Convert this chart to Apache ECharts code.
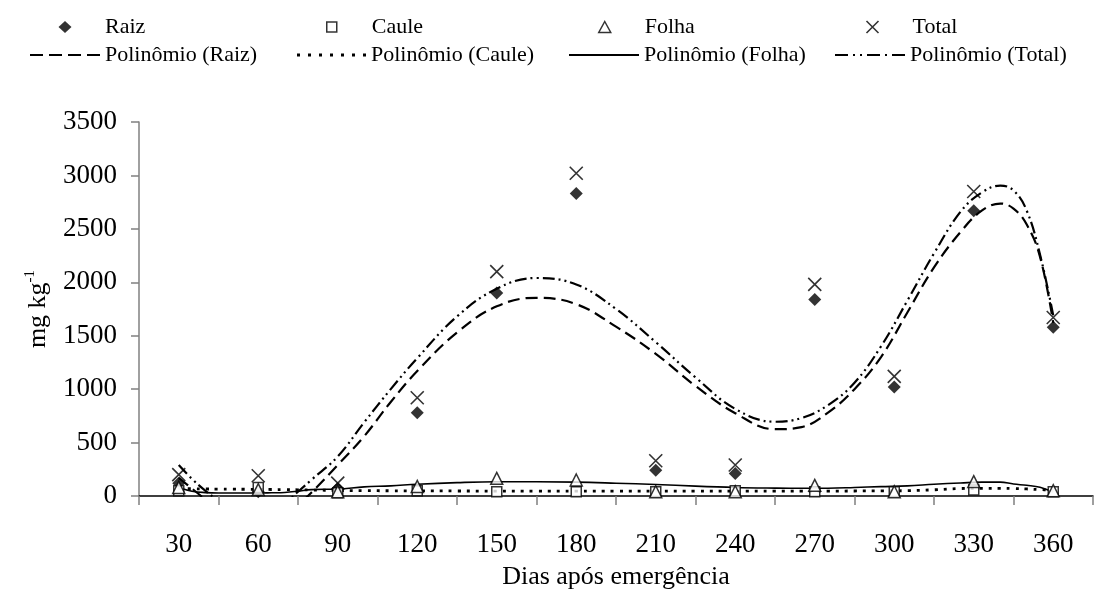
<!DOCTYPE html>
<html>
<head>
<meta charset="utf-8">
<title>mg kg-1 - Dias após emergência</title>
<script src="https://cdn.jsdelivr.net/npm/echarts@6/dist/echarts.min.js"></script>
<style>
  html, body { margin: 0; padding: 0; background: #fff; }
  #chart { width: 1096px; height: 595px; }
</style>
</head>
<body>
<div id="chart"></div>
<script>
// Observed values (mg kg-1) per sampling day
const days = [30, 60, 90, 120, 150, 180, 210, 240, 270, 300, 330, 360];
const raiz = [120, 40, 70, 780, 1900, 2830, 240, 210, 1840, 1020, 2670, 1580];
const caule = [50, 80, 30, 50, 40, 40, 40, 50, 40, 40, 55, 40];
const folha = [80, 60, 40, 90, 165, 150, 40, 40, 100, 40, 135, 50];
const total = [200, 190, 120, 920, 2100, 3020, 330, 290, 1980, 1120, 2850, 1670];

// Polynomial trendlines at these days
const trendDays = [30, 35, 40, 45, 50, 55, 60, 65, 70, 75, 80, 90, 100, 110, 120, 135, 150, 165, 180, 195,
    210, 225, 240, 255, 265, 275, 285, 295, 305, 315, 325, 333, 340, 345, 350, 355, 360];
const raizTrend = [170, 70, -30, -110, -180, -230, -250, -230, -170, -80, 30, 290, 560, 880, 1170, 1530, 1775, 1855, 1795, 1585,
    1330, 1030, 775, 625, 645, 780, 1000, 1300, 1720, 2140, 2470, 2670, 2737, 2690, 2540, 2240, 1620];
const cauleTrend = [70, 68, 66, 65, 64, 63, 62, 61, 60, 58, 56, 52, 50, 49, 48, 47, 46, 45, 45, 45,
    45, 45, 45, 45, 46, 46, 47, 48, 50, 58, 70, 72, 72, 70, 66, 60, 55];
const folhaTrend = [80, 45, 32, 28, 28, 28, 28, 30, 33, 45, 60, 65, 85, 95, 110, 125, 133, 133, 130, 120,
    108, 92, 80, 74, 72, 73, 80, 88, 95, 110, 122, 130, 130, 112, 100, 82, 35];
const totalTrend = [290, 160, 50, -40, -110, -150, -160, -140, -70, 40, 150, 370, 690, 1000, 1290, 1680, 1940, 2040, 1980, 1750,
    1440, 1110, 815, 695, 730, 850, 1060, 1400, 1830, 2270, 2660, 2840, 2905, 2860, 2670, 2260, 1690];

const yTicks = [0, 500, 1000, 1500, 2000, 2500, 3000, 3500];

const FONT = "'Liberation Serif', 'Times New Roman', serif";
const pair = (xs, ys) => xs.map((x, i) => [x, ys[i]]);

// Legend icons drawn in a 70x13 box (the two leading moves fix the box size)
const BOX = 'path://M0,0M70,13';
const ICONS = {
    diamond: BOX + 'M35,0.5L41.5,6.5L35,12.5L28.5,6.5Z',
    square: BOX + 'M30,1.5H40V11.5H30Z',
    triangle: BOX + 'M35,1L41,12H29Z',
    cross: BOX + 'M29,0.5L41,12.5M41,0.5L29,12.5',
    dash: BOX + 'M0,5.5H13V7.5H0ZM19,5.5H32V7.5H19ZM38,5.5H51V7.5H38ZM57,5.5H70V7.5H57Z',
    dot: BOX + 'M1,5H4V8H1ZM12,5H15V8H12ZM23,5H26V8H23ZM34,5H37V8H34ZM45,5H48V8H45ZM56,5H59V8H56ZM67,5H70V8H67Z',
    solid: BOX + 'M0,5.6H70V7.4H0Z',
    dashDot: BOX + 'M0,5.5H13V7.5H0ZM18,5.5H20V7.5H18ZM25,5.5H27V7.5H25ZM32,5.5H45V7.5H32ZM50,5.5H52V7.5H50ZM57,5.5H70V7.5H57Z'
};

let chart;

function legendAt(name, icon, left, top, itemStyle) {
    return {
        data: [{ name: name, icon: icon, itemStyle: itemStyle }],
        left: left,
        top: top,
        padding: 0,
        itemWidth: 70,
        itemHeight: 13,
        selectedMode: false,
        textStyle: { fontFamily: FONT, fontSize: 22, color: '#000' }
    };
}

const filled = { color: '#000', borderWidth: 0 };
const hollow = { color: '#fff', borderColor: '#000', borderWidth: 1.5 };
const stroked = { color: 'none', borderColor: '#000', borderWidth: 1.6 };

function trendSeries(name, values, type, width) {
    return {
        name: name,
        type: 'line',
        xAxisIndex: 1,
        data: pair(trendDays, values),
        symbol: 'none',
        smooth: 0.4,
        clip: true,
        itemStyle: { color: '#000' },
        lineStyle: { color: '#000', width: width, type: type },
        z: 3
    };
}

function setupChart() {
    chart = echarts.init(document.getElementById('chart'));

    const option = {
        animation: false,
        backgroundColor: '#fff',
        textStyle: { fontFamily: FONT },
        legend: [
            legendAt('Raiz', ICONS.diamond, 30, 16, filled),
            legendAt('Caule', ICONS.square, 296, 16, hollow),
            legendAt('Folha', ICONS.triangle, 569, 16, hollow),
            legendAt('Total', ICONS.cross, 835, 16, stroked),
            legendAt('Polinômio (Raiz)', ICONS.dash, 30, 44, filled),
            legendAt('Polinômio (Caule)', ICONS.dot, 296, 44, filled),
            legendAt('Polinômio (Folha)', ICONS.solid, 569, 44, filled),
            legendAt('Polinômio (Total)', ICONS.dashDot, 835, 44, filled)
        ],
        grid: { left: 139, right: 3, top: 122, bottom: 99 },
        xAxis: [
            {
                type: 'category',
                data: days.map(String),
                boundaryGap: true,
                name: 'Dias após emergência',
                nameLocation: 'middle',
                nameGap: 68,
                nameTextStyle: { fontFamily: FONT, fontSize: 26, color: '#000' },
                axisLine: { lineStyle: { color: '#000', width: 1.5 } },
                axisTick: { show: true, length: 9, lineStyle: { color: '#808080', width: 1.5 } },
                axisLabel: { fontFamily: FONT, fontSize: 27, color: '#000', margin: 35 },
                splitLine: { show: false }
            },
            {
                type: 'value',
                min: 15,
                max: 375,
                show: false
            }
        ],
        yAxis: {
            type: 'value',
            min: yTicks[0],
            max: yTicks[yTicks.length - 1],
            interval: 500,
            name: '{b|mg kg}{s|-1}',
            nameLocation: 'middle',
            nameGap: 86,
            nameTextStyle: {
                fontFamily: FONT,
                color: '#000',
                rich: {
                    b: { fontFamily: FONT, fontSize: 26, color: '#000', lineHeight: 30 },
                    s: { fontFamily: FONT, fontSize: 15, color: '#000', verticalAlign: 'top', lineHeight: 30 }
                }
            },
            axisLine: { show: true, lineStyle: { color: '#808080', width: 1.5 } },
            axisTick: { show: true, length: 8, lineStyle: { color: '#808080', width: 1.5 } },
            axisLabel: { fontFamily: FONT, fontSize: 27, color: '#000', margin: 22, formatter: v => String(v) },
            splitLine: { show: false }
        },
        series: [
            {
                name: 'Raiz',
                type: 'scatter',
                xAxisIndex: 1,
                data: pair(days, raiz),
                symbol: 'diamond',
                symbolSize: 13,
                itemStyle: filled,
                z: 4
            },
            {
                name: 'Caule',
                type: 'scatter',
                xAxisIndex: 1,
                data: pair(days, caule),
                symbol: 'rect',
                symbolSize: 10,
                itemStyle: hollow,
                z: 4
            },
            {
                name: 'Folha',
                type: 'scatter',
                xAxisIndex: 1,
                data: pair(days, folha),
                symbol: 'triangle',
                symbolSize: 12,
                itemStyle: hollow,
                z: 4
            },
            {
                name: 'Total',
                type: 'scatter',
                xAxisIndex: 1,
                data: pair(days, total),
                symbol: 'path://M0,0L10,10M10,0L0,10',
                symbolSize: 13,
                itemStyle: stroked,
                z: 4
            },
            trendSeries('Polinômio (Raiz)', raizTrend, [12, 6], 2.2),
            trendSeries('Polinômio (Caule)', cauleTrend, [3, 6], 2.8),
            trendSeries('Polinômio (Folha)', folhaTrend, 'solid', 1.6),
            trendSeries('Polinômio (Total)', totalTrend, [12, 4, 2, 4, 2, 4], 2.2)
        ]
    };

    chart.setOption(option);
}

window.addEventListener('resize', () => {
    chart?.resize();
});

setupChart();
</script>
</body>
</html>
